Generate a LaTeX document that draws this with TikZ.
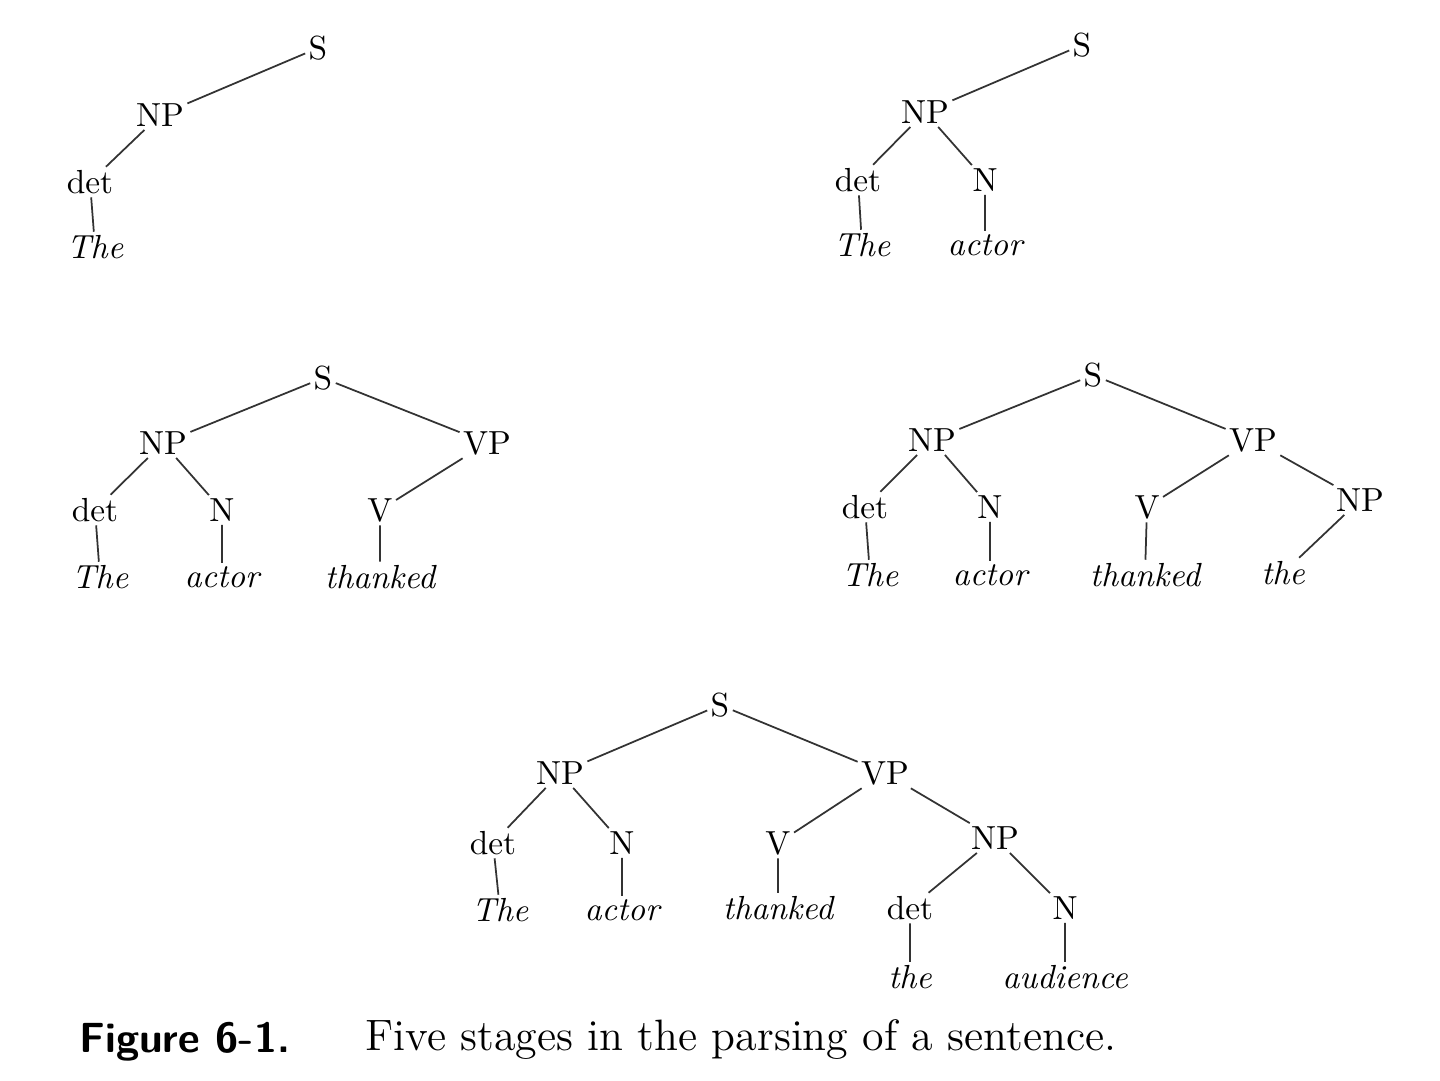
\documentclass[tikz,border=0pt]{standalone}
\begin{document}
\begin{tikzpicture}[x=0.1mm,y=-0.1mm,
  every node/.style={font=\fontsize{9.5}{11}\selectfont,inner sep=0.8pt},
  w/.style={font=\fontsize{9.5}{11}\selectfont\itshape},
  e/.style={draw=black!80,line width=0.5pt}]
\useasboundingbox (0,0) rectangle (1440,1080);
% Tree 1
\node (a1) at (318,48) {S};
\node (a2) at (160,115) {NP};
\node (a3) at (90,182) {det};
\node[w] (a4) at (95,247) {The};
\draw[e] (a1)--(a2) (a2)--(a3) (a3)--(a4);
% Tree 2
\node (b1) at (1082,45) {S};
\node (b2) at (925,112) {NP};
\node (b3) at (858,180) {det};
\node (b4) at (985,180) {N};
\node[w] (b5) at (862,245) {The};
\node[w] (b6) at (985,245) {actor};
\draw[e] (b1)--(b2) (b2)--(b3) (b2)--(b4) (b3)--(b5) (b4)--(b6);
% Tree 3
\node (c1) at (323,378) {S};
\node (c2) at (163,443) {NP};
\node (c3) at (487,443) {VP};
\node (c4) at (95,510) {det};
\node (c5) at (222,510) {N};
\node (c6) at (380,510) {V};
\node[w] (c7) at (100,577) {The};
\node[w] (c8) at (222,577) {actor};
\node[w] (c9) at (380,577) {thanked};
\draw[e] (c1)--(c2) (c1)--(c3) (c2)--(c4) (c2)--(c5) (c3)--(c6) (c4)--(c7) (c5)--(c8) (c6)--(c9);
% Tree 4
\node (d1) at (1093,375) {S};
\node (d2) at (932,440) {NP};
\node (d3) at (1253,440) {VP};
\node (d4) at (865,507) {det};
\node (d5) at (990,507) {N};
\node (d6) at (1147,507) {V};
\node (d7) at (1360,500) {NP};
\node[w] (d8) at (870,575) {The};
\node[w] (d9) at (990,575) {actor};
\node[w] (d10) at (1145,575) {thanked};
\node[w] (d11) at (1283,573) {the};
\draw[e] (d1)--(d2) (d1)--(d3) (d2)--(d4) (d2)--(d5) (d3)--(d6) (d3)--(d7) (d4)--(d8) (d5)--(d9) (d6)--(d10) (d7)--(d11);
% Tree 5
\node (f1) at (720,705) {S};
\node (f2) at (560,773) {NP};
\node (f3) at (885,773) {VP};
\node (f4) at (493,843) {det};
\node (f5) at (622,843) {N};
\node (f6) at (778,843) {V};
\node (f7) at (995,838) {NP};
\node[w] (f8) at (500,910) {The};
\node[w] (f9) at (622,910) {actor};
\node[w] (f10) at (778,908) {thanked};
\node (f11) at (910,908) {det};
\node (f12) at (1065,908) {N};
\node[w] (f13) at (910,977) {the};
\node[w] (f14) at (1065,977) {audience};
\draw[e] (f1)--(f2) (f1)--(f3) (f2)--(f4) (f2)--(f5) (f3)--(f6) (f3)--(f7) (f4)--(f8) (f5)--(f9) (f6)--(f10) (f7)--(f11) (f7)--(f12) (f11)--(f13) (f12)--(f14);
% Caption
\node[anchor=west,font=\fontsize{12}{14}\selectfont\sffamily\bfseries] (cap1) at (76,1042) {Figure 6-1.};
\node[anchor=west,font=\fontsize{12.5}{14}\selectfont] (cap2) at (362,1040) {Five stages in the parsing of a sentence.};
\end{tikzpicture}
\end{document}
